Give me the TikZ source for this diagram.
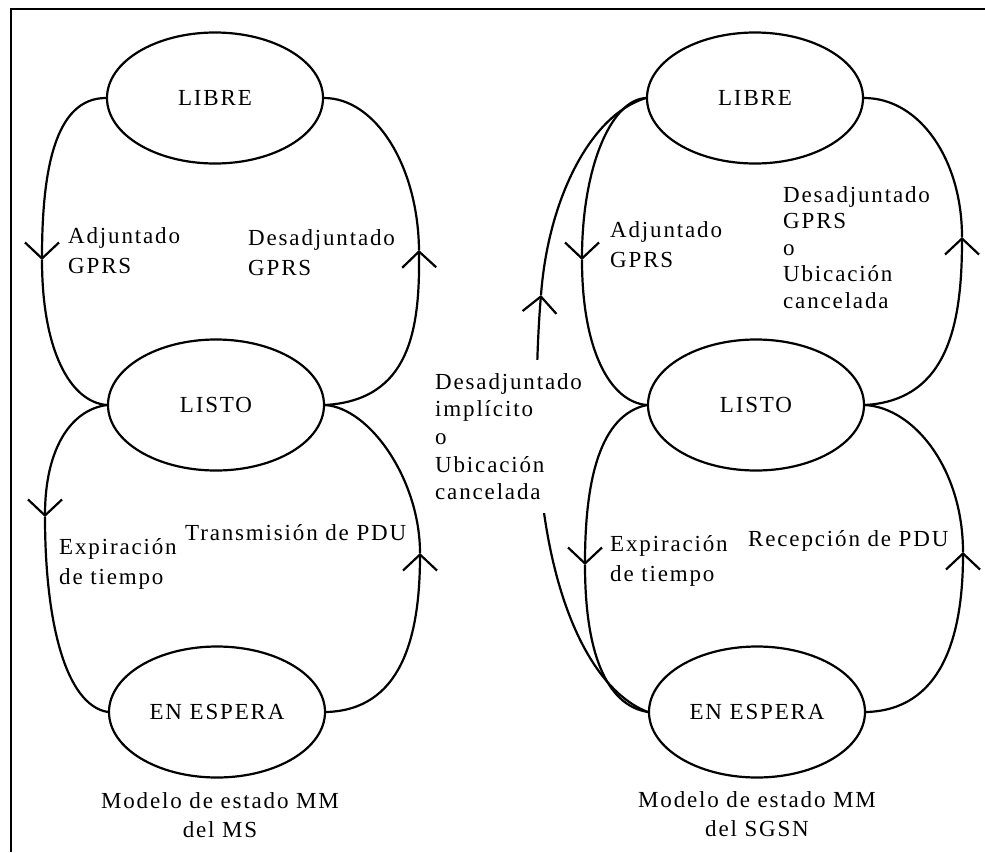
\documentclass[tikz,border=0pt]{standalone}
\usepackage{fontspec}
\setmainfont{Liberation Serif}
\newfontfamily\lblfont[LetterSpace=8]{Liberation Serif}
\usetikzlibrary{shapes.geometric,arrows.meta}
\begin{document}
\begin{tikzpicture}[x=1pt,y=-1pt,
  state/.style={ellipse,draw,line width=2.2pt,minimum width=216pt,minimum height=131pt,inner sep=0pt,font=\lblfont\fontsize{23}{27}\selectfont},
  arc/.style={line width=2.2pt},
  arr/.style={arc,-{Straight Barb[length=16pt,width=34pt]}},
  lbl/.style={anchor=north west,inner sep=0pt,align=left,font=\lblfont\fontsize{23}{27}\selectfont},
  lbltwo/.style={lbl,font=\lblfont\fontsize{23}{30}\selectfont},
  lblfive/.style={lbl,font=\lblfont\fontsize{23}{26.5}\selectfont},
  lblmid/.style={lbl,font=\lblfont\fontsize{23}{27.7}\selectfont},
  captext/.style={anchor=north,inner sep=0pt,align=center,font=\lblfont\fontsize{23}{29}\selectfont}]
\useasboundingbox (0,0) rectangle (985,852);
% frame
\draw[line width=2.2pt] (11,852) -- (11,9) -- (985,9);

% states
\node[state] (L1) at (215,98) {LIBRE};
\node[state] (S1) at (216,405) {LISTO};
\node[state] (E1) at (217,712) {EN ESPERA};
\node[state] (L2) at (755,98) {LIBRE};
\node[state] (S2) at (756,405) {LISTO};
\node[state] (E2) at (757,712) {EN ESPERA};

% arrow tip coordinates
\coordinate (a1) at (42,260);
\coordinate (b1) at (419,250);
\coordinate (c1) at (45,517);
\coordinate (d1) at (420,553);
\coordinate (a2) at (582,260);
\coordinate (b2) at (962,237);
\coordinate (c2) at (585,565);
\coordinate (d2) at (963,552);
\coordinate (e2) at (541,295);
\coordinate (k2) at (537,420);

% left diagram
\draw[arr] (L1.west) .. controls (55,98) and (42,170) .. (a1);
\draw[arc] (a1) .. controls (42,350) and (70,402) .. (S1.west);
\draw[arr] (S1.east) .. controls (410,400) and (420,330) .. (b1);
\draw[arc] (b1) .. controls (418,165) and (375,98) .. (L1.east);
\draw[arr] (S1.west) .. controls (70,410) and (45,450) .. (c1);
\draw[arc] (c1) .. controls (45,620) and (65,705) .. (E1.west);
\draw[arr] (E1.east) .. controls (400,710) and (420,640) .. (d1);
\draw[arc] (d1) .. controls (420,480) and (370,408) .. (S1.east);

% right diagram
\draw[arr] (L2.west) .. controls (610,100) and (582,170) .. (a2);
\draw[arc] (a2) .. controls (582,350) and (610,402) .. (S2.west);
\draw[arr] (S2.east) .. controls (950,400) and (962,320) .. (b2);
\draw[arc] (b2) .. controls (962,160) and (920,98) .. (L2.east);
\draw[arr] (S2.west) .. controls (600,415) and (585,480) .. (c2);
\draw[arc] (c2) .. controls (585,650) and (605,705) .. (E2.west);
\draw[arr] (E2.east) .. controls (940,710) and (963,640) .. (d2);
\draw[arc] (d2) .. controls (963,470) and (915,408) .. (S2.east);
\draw[arr] (E2.west) .. controls (590,690) and (540,590) .. (k2) .. controls (536,380) and (538,330) .. (e2);
\draw[arc] (e2) .. controls (548,200) and (590,115) .. (L2.west);

% labels left
\node[lbltwo] (t1) at (68,227) {Adjuntado\\GPRS};
\node[lbltwo] (t2) at (248,229) {Desadjuntado\\GPRS};
\node[lbltwo] (t3) at (59,538) {Expiración\\de tiempo};
\node[lbl] (t4) at (185,524) {Transmisión de PDU};
\node[captext] (t5) at (220,792) {Modelo de estado MM\\del MS};

% labels right
\node[lbltwo] (t6) at (610,221) {Adjuntado\\GPRS};
\node[lblfive] (t7) at (783,186) {Desadjuntado\\GPRS\\o\\Ubicación\\cancelada};
\node[lblmid,fill=white,inner ysep=13pt] (t8) at (435,360) {Desadjuntado\\implícito\\o\\Ubicación\\cancelada};
\node[lbltwo] (t9) at (610,535) {Expiración\\de tiempo};
\node[lbl] (t10) at (748,530) {Recepción de PDU};
\node[captext] (t11) at (757,791) {Modelo de estado MM\\del SGSN};
\end{tikzpicture}
\end{document}
